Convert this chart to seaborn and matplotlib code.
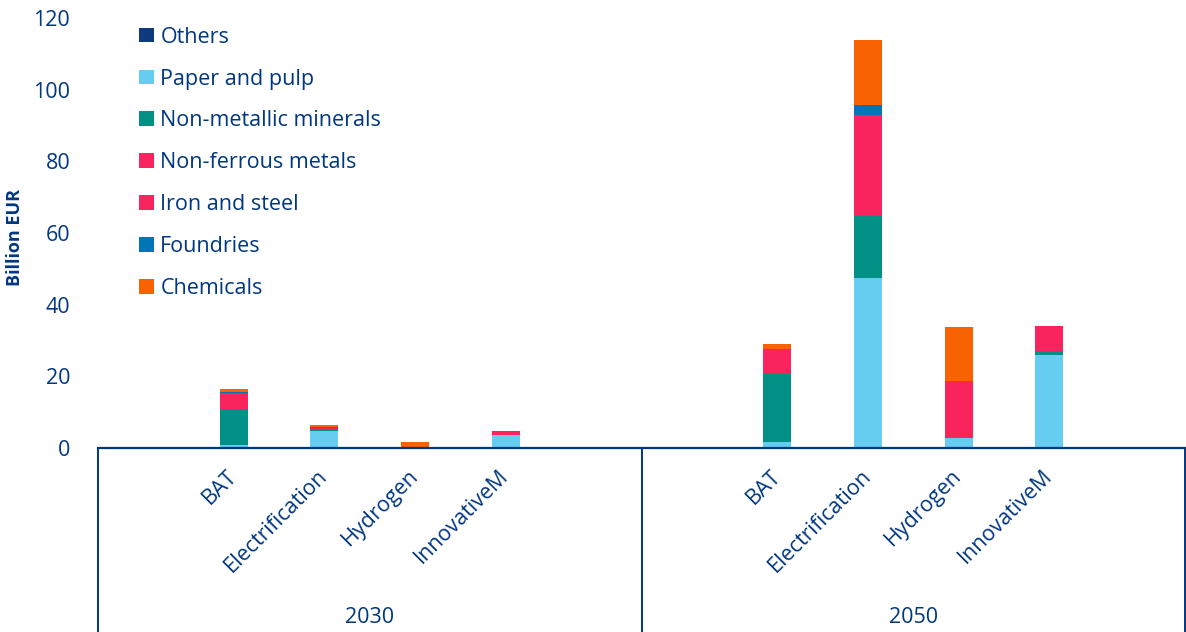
import pandas as pd
import matplotlib.pyplot as plt
import seaborn as sns
from matplotlib.patches import Patch

# Data (billion EUR)
years = ['2030', '2050']
technologies = ['BAT', 'Electrification', 'Hydrogen', 'InnovativeM']
sectors = ['Others', 'Paper and pulp', 'Non-metallic minerals', 'Non-ferrous metals',
           'Iron and steel', 'Foundries', 'Chemicals']

# order: 2030 BAT, Elec, Hyd, Innov, 2050 BAT, Elec, Hyd, Innov
others = [0.0, 0.0, 0.0, 0.0, 0.0, 0.0, 0.0, 0.0]
paper_pulp = [0.8, 4.8, 0.0, 3.55, 1.7, 47.5, 2.8, 25.9]
non_metallic = [10.0, 0.5, 0.0, 0.1, 19.0, 17.2, 0.0, 1.2]
non_ferrous = [0.8, 0.1, 0.0, 0.0, 1.0, 0.75, 0.2, 1.1]
iron_steel = [3.8, 0.1, 0.1, 1.2, 5.8, 27.6, 15.8, 5.9]
foundries = [0.2, 0.4, 0.0, 0.0, 0.2, 2.6, 0.0, 0.0]
chemicals = [0.75, 0.5, 1.5, 0.0, 1.2, 18.3, 15.0, 0.0]

colors = ['#0f3a7d', '#66ccf0', '#009086', '#f9245e', '#f9245e', '#0076b6', '#f86200']
navy = '#003781'

values = [others, paper_pulp, non_metallic, non_ferrous, iron_steel, foundries, chemicals]

# Build long table; each year group has 6 slots, bars sit in slots 1..4
slots_per_group = 6
rows = []
for s, vals in zip(sectors, values):
    for i, v in enumerate(vals):
        g, t = divmod(i, len(technologies))
        rows.append({'sector': s, 'pos': g * slots_per_group + t + 1, 'value': v})
df = pd.DataFrame(rows)

sns.set_style('white')
plt.rcParams['font.family'] = ['Open Sans', 'DejaVu Sans']

fig = plt.figure(figsize=(11.86, 6.32), dpi=100)
ax = fig.add_axes([0.0826, 0.2911, 0.9166, 0.6804])

# seaborn stacks the first hue level on top, so pass sectors top-down
sns.histplot(data=df, x='pos', weights='value', hue='sector',
             hue_order=sectors[::-1], palette=colors[::-1],
             multiple='stack', discrete=True, shrink=0.31,
             element='bars', alpha=1, linewidth=0, legend=False, ax=ax)

n_slots = slots_per_group * len(years)
ax.set_xlim(-0.5, n_slots - 0.5)
ax.set_ylim(0, 120)
ax.set_yticks(range(0, 121, 20))
ax.set_ylabel('')
ax.set_xlabel('')
fig.text(0.013, 0.625, 'Billion EUR', rotation=90, ha='center', va='center',
         fontsize=13, fontweight='bold', color=navy)

ticks = [g * slots_per_group + t + 1 for g in range(len(years)) for t in range(len(technologies))]
ax.set_xticks(ticks)
ax.set_xticklabels(technologies * len(years), rotation=45, ha='right',
                   va='center', rotation_mode='anchor')
ax.tick_params(axis='x', length=0, pad=18, labelsize=15.5, labelcolor=navy)
ax.tick_params(axis='y', length=0, pad=20, labelsize=15.5, labelcolor=navy)

for side in ['left', 'right', 'top']:
    ax.spines[side].set_visible(False)
ax.spines['bottom'].set_color(navy)
ax.spines['bottom'].set_linewidth(1.6)

# group box lines under the axis
trans = ax.get_xaxis_transform()
for x in [g * slots_per_group - 0.5 for g in range(len(years) + 1)]:
    ax.plot([x, x], [0, -0.45], transform=trans, color=navy, lw=1.4, clip_on=False)
for g, yr in enumerate(years):
    ax.text(g * slots_per_group + (slots_per_group - 1) / 2, -0.395, yr, transform=trans,
            ha='center', va='center', fontsize=15.5, color=navy)

handles = [Patch(facecolor=c, edgecolor='none') for c in colors]
leg = ax.legend(handles, sectors, loc='upper left', bbox_to_anchor=(0.03, 1.0),
                frameon=False, fontsize=15.5, handlelength=0.68, handleheight=0.68,
                handletextpad=0.3, labelspacing=0.97, borderaxespad=0)
for txt in leg.get_texts():
    txt.set_color(navy)

plt.savefig('out.png', dpi=100)
